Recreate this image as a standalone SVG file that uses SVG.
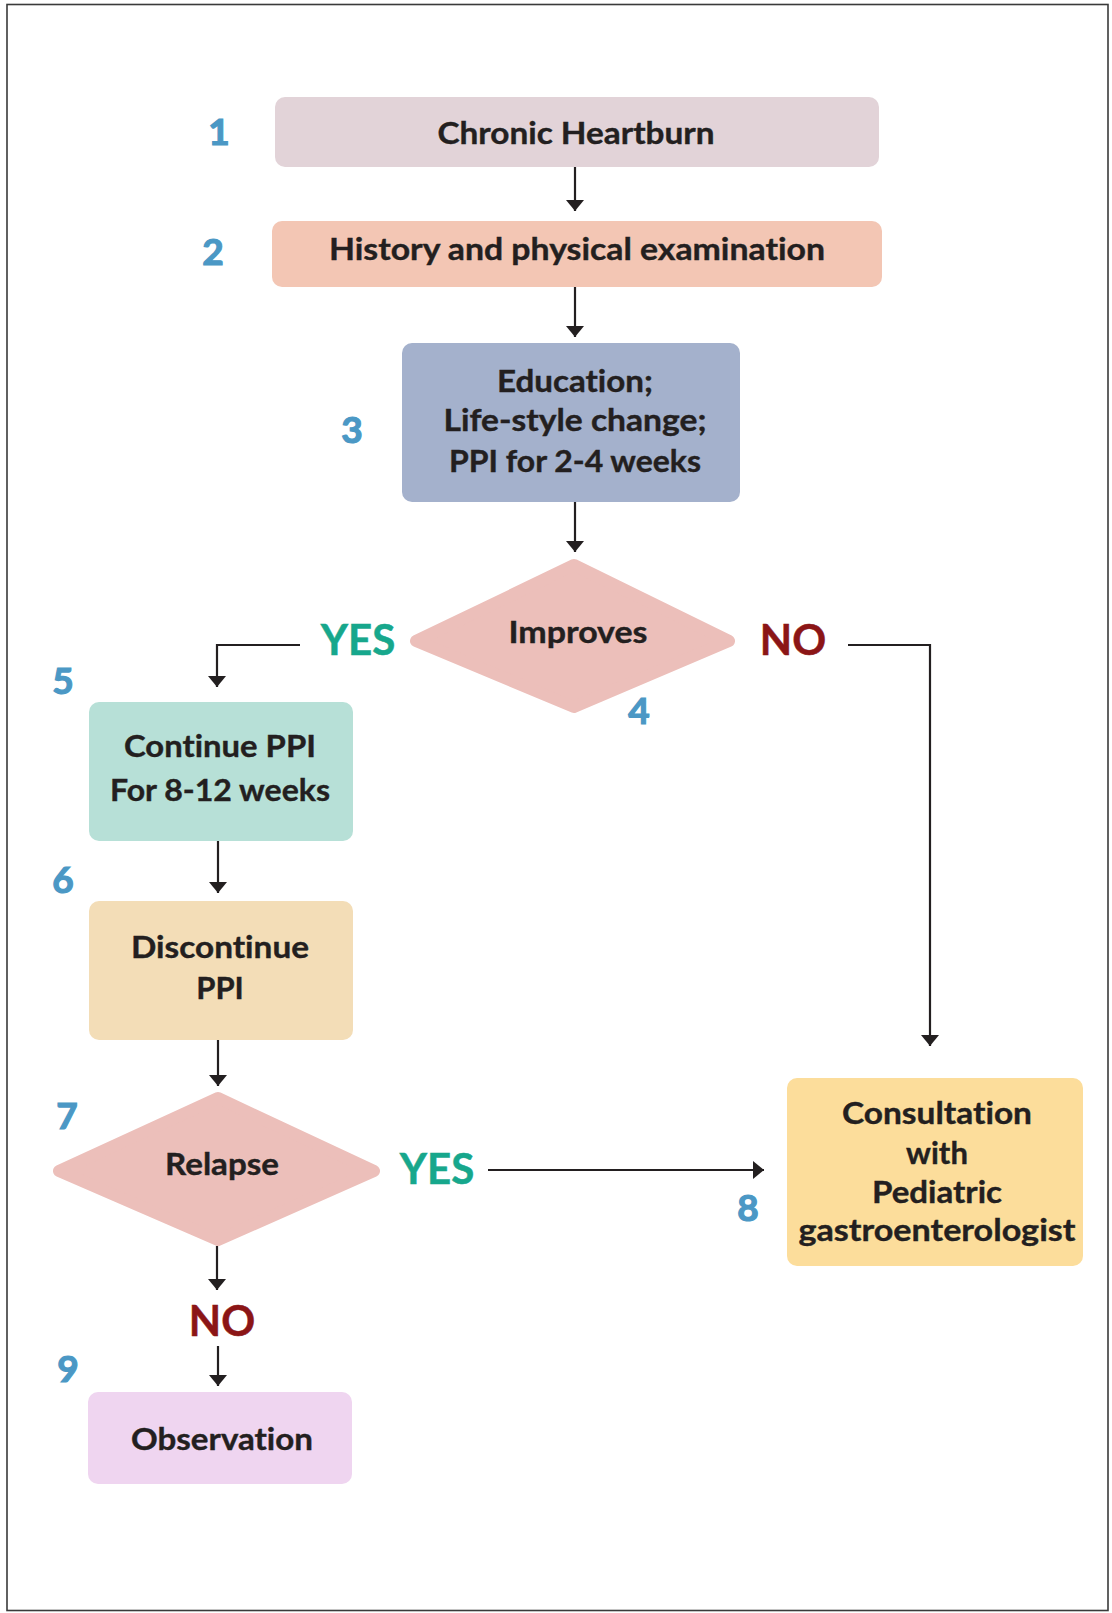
<svg xmlns="http://www.w3.org/2000/svg" width="1112" height="1613" viewBox="0 0 1112 1613">
  <style>
    text { font-family: Lato, "Open Sans", "Liberation Sans", sans-serif; font-variant-ligatures: none; font-feature-settings: "liga" 0; text-anchor: middle; }
    .frame { fill: #ffffff; stroke: #3a3a3a; stroke-width: 1.6; }
    .box { stroke: none; }
    .lbl { font-weight: 700; font-size: 31px; fill: #231f20; stroke: #231f20; stroke-width: 0.4; }
    .num { font-weight: 700; font-size: 37px; fill: #4b98c5; stroke: #4b98c5; stroke-width: 1.2; }
    .yes { font-weight: 700; font-size: 42px; fill: #17a78c; stroke: #17a78c; stroke-width: 0.5; }
    .no { font-weight: 700; font-size: 42px; fill: #8b1516; stroke: #8b1516; stroke-width: 0.5; }
    .edge { fill: none; stroke: #231f20; stroke-width: 2.2; }
    .dia { fill: #ecbfba; stroke: #ecbfba; stroke-width: 12; stroke-linejoin: round; }
  </style>
  <defs>
    <marker id="arrow" markerUnits="userSpaceOnUse" markerWidth="20" markerHeight="20" viewBox="0 0 20 20" refX="11" refY="10" orient="auto">
      <path d="M0,1 L11,10 L0,19 Z" fill="#231f20"/>
    </marker>
  </defs>

  <!-- outer frame -->
  <rect class="frame" x="7" y="4.5" width="1101" height="1606"/>

  <!-- connectors -->
  <g id="connectors">
    <path class="edge" d="M575,166 V211" marker-end="url(#arrow)"/>
    <path class="edge" d="M575,287 V337" marker-end="url(#arrow)"/>
    <path class="edge" d="M575,502 V552" marker-end="url(#arrow)"/>
    <path class="edge" d="M300,645 H217 V687" marker-end="url(#arrow)"/>
    <path class="edge" d="M848,645 H930 V1046" marker-end="url(#arrow)"/>
    <path class="edge" d="M218,841 V893" marker-end="url(#arrow)"/>
    <path class="edge" d="M218,1040 V1086" marker-end="url(#arrow)"/>
    <path class="edge" d="M488,1170 H764" marker-end="url(#arrow)"/>
    <path class="edge" d="M217,1246 V1290" marker-end="url(#arrow)"/>
    <path class="edge" d="M218,1346 V1386" marker-end="url(#arrow)"/>
    <text class="yes" x="358" y="655">YES</text>
    <text class="no" x="793" y="655">NO</text>
    <text class="yes" x="437" y="1184">YES</text>
    <text class="no" x="222" y="1336">NO</text>
  </g>

  <!-- 1 -->
  <g id="n1">
    <rect class="box" x="275" y="97" width="604" height="70" rx="10" fill="#e2d3d8"/>
    <text class="lbl" x="576" y="144" textLength="277" lengthAdjust="spacingAndGlyphs">Chronic Heartburn</text>
    <text class="num" x="219" y="145">1</text>
  </g>

  <!-- 2 -->
  <g id="n2">
    <rect class="box" x="272" y="221" width="610" height="66" rx="10" fill="#f3c6b4"/>
    <text class="lbl" x="577" y="260" textLength="496" lengthAdjust="spacingAndGlyphs">History and physical examination</text>
    <text class="num" x="213" y="265">2</text>
  </g>

  <!-- 3 -->
  <g id="n3">
    <rect class="box" x="402" y="343" width="338" height="159" rx="10" fill="#a4b1cc"/>
    <text class="lbl" x="575" y="392" textLength="156" lengthAdjust="spacingAndGlyphs">Education;</text>
    <text class="lbl" x="575" y="431" textLength="263" lengthAdjust="spacingAndGlyphs">Life-style change;</text>
    <text class="lbl" x="575" y="472" textLength="252" lengthAdjust="spacingAndGlyphs">PPI for 2-4 weeks</text>
    <text class="num" x="352" y="443">3</text>
  </g>

  <!-- 4 -->
  <g id="n4">
    <polygon class="dia" points="574,565 729,641 574,707 416,641"/>
    <text class="lbl" x="578" y="643" textLength="139" lengthAdjust="spacingAndGlyphs">Improves</text>
    <text class="num" x="639" y="724">4</text>
  </g>

  <!-- 5 -->
  <g id="n5">
    <rect class="box" x="89" y="702" width="264" height="139" rx="10" fill="#b7e0d7"/>
    <text class="lbl" x="220" y="757" textLength="192" lengthAdjust="spacingAndGlyphs">Continue PPI</text>
    <text class="lbl" x="220" y="801" textLength="220" lengthAdjust="spacingAndGlyphs">For 8-12 weeks</text>
    <text class="num" x="63" y="694">5</text>
  </g>

  <!-- 6 -->
  <g id="n6">
    <rect class="box" x="89" y="901" width="264" height="139" rx="10" fill="#f3ddb7"/>
    <text class="lbl" x="220" y="958" textLength="178" lengthAdjust="spacingAndGlyphs">Discontinue</text>
    <text class="lbl" x="220" y="999">PPI</text>
    <text class="num" x="63" y="893">6</text>
  </g>

  <!-- 7 -->
  <g id="n7">
    <polygon class="dia" points="218,1098 374,1171 218,1240 59,1171"/>
    <text class="lbl" x="222" y="1175" textLength="114" lengthAdjust="spacingAndGlyphs">Relapse</text>
    <text class="num" x="67" y="1129">7</text>
  </g>

  <!-- 8 -->
  <g id="n8">
    <rect class="box" x="787" y="1078" width="296" height="188" rx="10" fill="#fcdd9b"/>
    <text class="lbl" x="937" y="1124" textLength="190" lengthAdjust="spacingAndGlyphs">Consultation</text>
    <text class="lbl" x="937" y="1164">with</text>
    <text class="lbl" x="937" y="1203" textLength="130" lengthAdjust="spacingAndGlyphs">Pediatric</text>
    <text class="lbl" x="937" y="1241" textLength="277" lengthAdjust="spacingAndGlyphs">gastroenterologist</text>
    <text class="num" x="748" y="1221">8</text>
  </g>

  <!-- 9 -->
  <g id="n9">
    <rect class="box" x="88" y="1392" width="264" height="92" rx="10" fill="#efd5f0"/>
    <text class="lbl" x="222" y="1450" textLength="182" lengthAdjust="spacingAndGlyphs">Observation</text>
    <text class="num" x="68" y="1382">9</text>
  </g>
</svg>
